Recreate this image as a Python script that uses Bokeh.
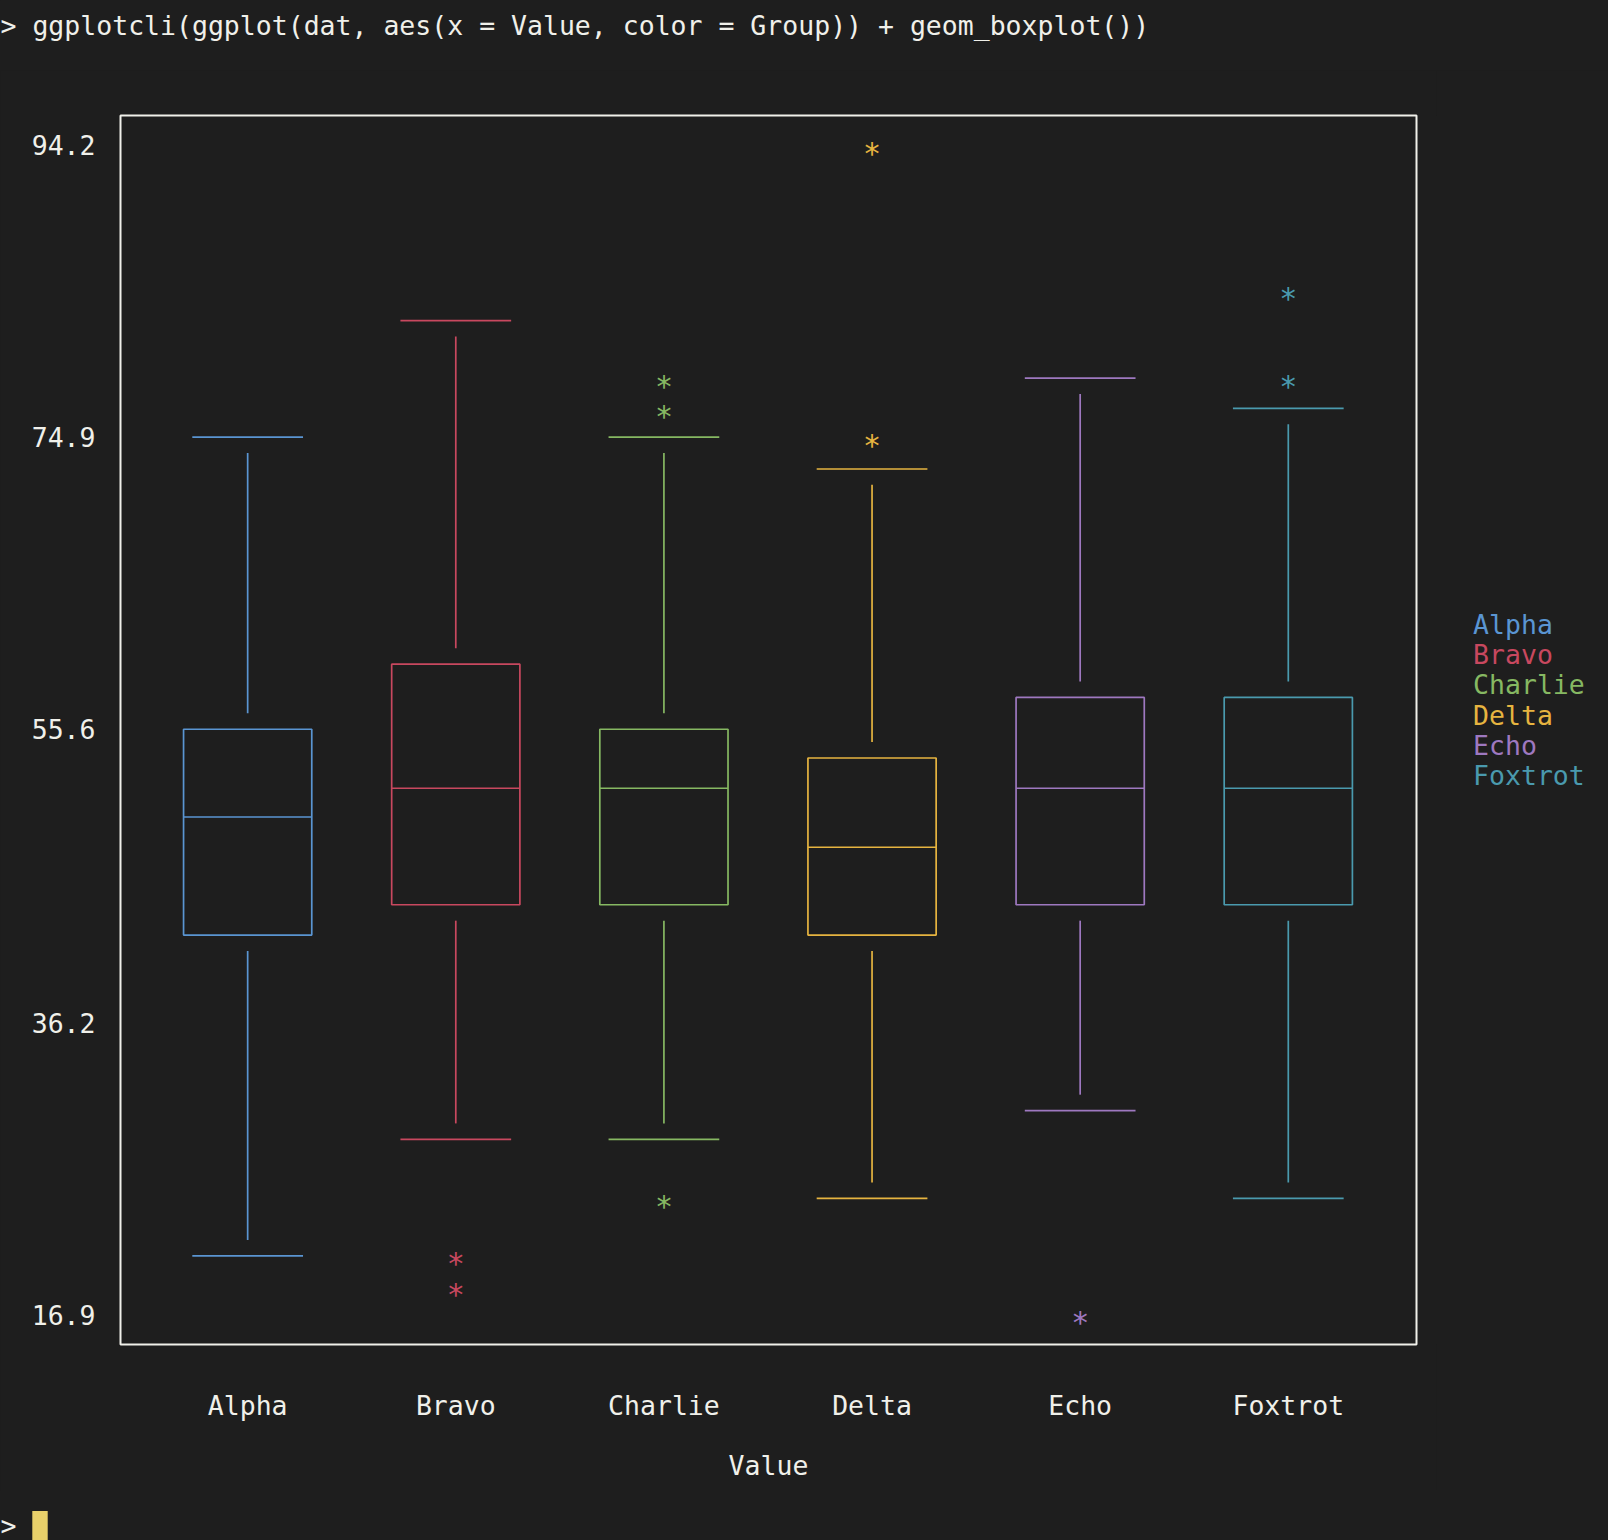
from bokeh.plotting import figure
from bokeh.models import Range1d, FixedTicker, ColumnDataSource
from bokeh.layouts import column, row
from bokeh.core.properties import value
from bokeh.embed import file_html
from bokeh.resources import INLINE

# ---- data ----
categories = ["Alpha", "Bravo", "Charlie", "Delta", "Echo", "Foxtrot"]
colors = ["#5a95d2", "#c8485f", "#86b862", "#e6b440", "#9e78c0", "#4a9aae"]
upper = [74.9, 82.6, 74.9, 72.8, 78.8, 76.8]
q3 = [55.6, 59.9, 55.6, 53.7, 57.7, 57.7]
median = [49.8, 51.7, 51.7, 47.8, 51.7, 51.7]
q1 = [42.0, 44.0, 44.0, 42.0, 44.0, 44.0]
lower = [20.8, 28.5, 28.5, 24.6, 30.4, 24.6]
outlier_group = ["Bravo", "Bravo", "Charlie", "Charlie", "Charlie", "Delta", "Delta", "Echo", "Foxtrot", "Foxtrot"]
outlier_value = [20.8, 18.8, 78.8, 76.8, 24.6, 94.2, 74.9, 16.9, 84.6, 78.8]
y_ticks = [16.9, 36.2, 55.6, 74.9, 94.2]
command = "> ggplotcli(ggplot(dat, aes(x = Value, color = Group)) + geom_boxplot())"
prompt = ">"

# ---- style ----
BG = "#1e1e1e"
FG = "#f0f0ea"
CURSOR = "#e8d06a"
FONT = "DejaVu Sans Mono"
FS = "26.5px"
BOX_HW = 0.308
CAP_HW = 0.266
GAP = 1.05
LW = 1.7


def blank(width, height, xr, yr, **kw):
    f = figure(width=width, height=height, output_backend="svg", toolbar_location=None,
               x_range=Range1d(*xr), y_range=Range1d(*yr),
               x_axis_location=None, y_axis_location=None, **kw)
    f.background_fill_color = BG
    f.border_fill_color = BG
    f.outline_line_color = None
    f.grid.visible = False
    return f


xs = list(range(len(categories)))
col_of = dict(zip(categories, colors))
idx_of = {c: i for i, c in enumerate(categories)}

# ---- main plot ----
p = figure(width=1436, height=1420, output_backend="svg", toolbar_location=None,
           x_range=Range1d(-0.611, 5.616), y_range=Range1d(14.94, 96.16),
           min_border_left=120, min_border_right=20, min_border_top=45, min_border_bottom=146)
p.background_fill_color = BG
p.border_fill_color = BG
p.outline_line_color = FG
p.outline_line_width = 2
p.grid.visible = False

src = ColumnDataSource(dict(x=xs, color=colors, upper=upper, q3=q3, median=median, q1=q1, lower=lower,
                            left=[x - BOX_HW for x in xs], right=[x + BOX_HW for x in xs],
                            cl=[x - CAP_HW for x in xs], cr=[x + CAP_HW for x in xs],
                            uw0=[v + GAP for v in q3], uw1=[v - GAP for v in upper],
                            lw0=[v - GAP for v in q1], lw1=[v + GAP for v in lower]))
p.quad(left="left", right="right", top="q3", bottom="q1", source=src,
       fill_alpha=0, line_color="color", line_width=LW)
p.segment(x0="left", x1="right", y0="median", y1="median", source=src, line_color="color", line_width=LW)
p.segment(x0="x", x1="x", y0="uw0", y1="uw1", source=src, line_color="color", line_width=LW)
p.segment(x0="x", x1="x", y0="lw0", y1="lw1", source=src, line_color="color", line_width=LW)
p.segment(x0="cl", x1="cr", y0="upper", y1="upper", source=src, line_color="color", line_width=LW)
p.segment(x0="cl", x1="cr", y0="lower", y1="lower", source=src, line_color="color", line_width=LW)

osrc = ColumnDataSource(dict(x=[idx_of[g] for g in outlier_group], y=outlier_value,
                             color=[col_of[g] for g in outlier_group], t=["*"] * len(outlier_value)))
p.text(x="x", y="y", text="t", source=osrc, text_color="color", text_font=value(FONT),
       text_font_size="30px", text_align="center", text_baseline="middle", y_offset=8)

p.xaxis.ticker = FixedTicker(ticks=xs)
p.xaxis.major_label_overrides = {i: c for i, c in enumerate(categories)}
p.yaxis.ticker = FixedTicker(ticks=y_ticks)
p.yaxis.major_label_overrides = {v: f"{v:.1f}" for v in y_ticks}
for ax in (p.xaxis[0], p.yaxis[0]):
    ax.axis_line_color = None
    ax.major_tick_line_color = None
    ax.minor_tick_line_color = None
    ax.major_label_text_color = FG
    ax.major_label_text_font = FONT
    ax.major_label_text_font_size = FS
p.yaxis.major_label_standoff = 19
p.xaxis.major_label_standoff = 39
p.xaxis.axis_label = "Value"
p.xaxis.axis_label_text_color = FG
p.xaxis.axis_label_text_font = FONT
p.xaxis.axis_label_text_font_size = FS
p.xaxis.axis_label_text_font_style = "normal"
p.xaxis.axis_label_standoff = 26

# ---- top: command line (canvas-pixel coordinates, y downwards) ----
top = blank(1608, 70, (0, 1608), (70, 0), min_border=0)
top.text(x=[0], y=[24.6], text=[command], text_color=FG, text_font=value(FONT),
         text_font_size=FS, text_baseline="middle", text_align="left")

# ---- right: legend as coloured text (frame aligned with main frame) ----
leg = blank(172, 1420, (0, 172), (1344.4, 114.9),
            min_border_left=0, min_border_right=0, min_border_top=45, min_border_bottom=146)
leg.text(x=[36.6] * len(categories), y=[624.5 + 30.05 * i for i in range(len(categories))],
         text=categories, text_color=colors, text_font=value(FONT), text_font_size=FS,
         text_baseline="middle", text_align="left")

# ---- bottom: prompt with cursor ----
bot = blank(1608, 50, (0, 1608), (1540, 1490), min_border=0)
bot.text(x=[0], y=[1525], text=[prompt], text_color=FG, text_font=value(FONT),
         text_font_size=FS, text_baseline="middle", text_align="left")
bot.quad(left=[31.8], right=[47.2], top=[1510.6], bottom=[1540], fill_color=CURSOR, line_color=None)

layout = column(top, row(p, leg), bot)
layout.background = BG
open("out.html", "w").write(file_html(layout, INLINE))
